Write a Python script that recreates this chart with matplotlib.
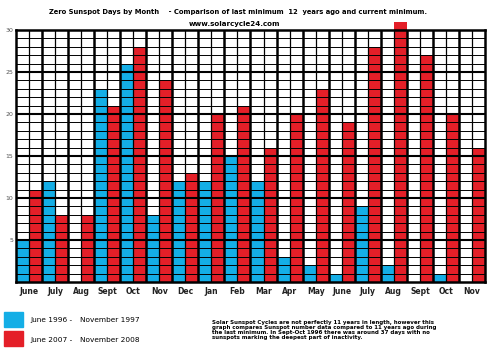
import numpy as np
import matplotlib.pyplot as plt

months = ["June", "July", "Aug", "Sept", "Oct", "Nov", "Dec", "Jan", "Feb",
          "Mar", "Apr", "May", "June", "July", "Aug", "Sept", "Oct", "Nov"]
days_1996 = [5, 12, 0, 23, 26, 8, 12, 12, 15, 12, 3, 2, 1, 9, 2, 0, 1, 0]
days_2007 = [11, 8, 8, 21, 28, 24, 13, 20, 21, 16, 20, 23, 19, 28, 31, 27, 20, 16]
yticks = [5, 10, 15, 20, 25, 30]

blue = "#14aee6"
red = "#e41f28"

fig = plt.figure(figsize=(4.98, 3.53), dpi=100)
ax = fig.add_axes([0.032, 0.201, 0.942, 0.714])

x = np.arange(len(months))
ax.bar(x, days_1996, width=0.5, align="edge", color=blue, zorder=2, clip_on=False)
ax.bar(x + 0.5, days_2007, width=0.5, align="edge", color=red, zorder=2, clip_on=False)

# grid over the bars: thin every day, heavy every 5
for y in range(1, 30):
    ax.axhline(y, color="black", lw=1.5 if y % 5 == 0 else 0.7, zorder=3)
for i in range(1, len(months)):
    ax.axvline(i, color="black", lw=1.8, zorder=3)
for i in range(len(months)):
    ax.axvline(i + 0.5, color="black", lw=0.9, zorder=3)

ax.set_xlim(0, len(months))
ax.set_ylim(0, 30)
for s in ax.spines.values():
    s.set_linewidth(1.8)
    s.set_zorder(4)

ax.set_xticks(x + 0.5)
ax.set_xticklabels(months, fontsize=5.5, fontweight="bold", color="#222222")
ax.set_yticks(yticks)
ax.set_yticklabels([str(v) for v in yticks], fontsize=4.5, color="#555555")
ax.tick_params(length=0, pad=3.5)
ax.tick_params(axis="y", pad=2)

fig.text(0.478, 0.965, "Zero Sunspot Days by Month    - Comparison of last minimum  12  years ago and current minimum.",
         ha="center", va="center", fontsize=4.9, fontweight="bold")
fig.text(0.47, 0.932, "www.solarcycle24.com", ha="center", va="center",
         fontsize=5.1, fontweight="bold")

# legend
fig.patches.append(plt.Rectangle((4 / 498, 1 - 327 / 353), 19 / 498, 15 / 353,
                                 transform=fig.transFigure, color=blue))
fig.patches.append(plt.Rectangle((4 / 498, 1 - 346 / 353), 19 / 498, 15 / 353,
                                 transform=fig.transFigure, color=red))
fig.text(30 / 498, 1 - 320 / 353, "June 1996 -", va="center", fontsize=5.3)
fig.text(80 / 498, 1 - 320 / 353, "November 1997", va="center", fontsize=5.3)
fig.text(30 / 498, 1 - 340 / 353, "June 2007 -", va="center", fontsize=5.3)
fig.text(80 / 498, 1 - 340 / 353, "November 2008", va="center", fontsize=5.3)

fig.text(212 / 498, 1 - 330 / 353,
         "Solar Sunspot Cycles are not perfectly 11 years in length, however this\n"
         "graph compares Sunspot number data compared to 11 years ago during\n"
         "the last minimum. In Sept-Oct 1996 there was around 37 days with no\n"
         "sunspots marking the deepest part of inactivity.",
         va="center", fontsize=4.0, fontweight="bold", linespacing=1.05)

fig.savefig("out.png", dpi=100)
